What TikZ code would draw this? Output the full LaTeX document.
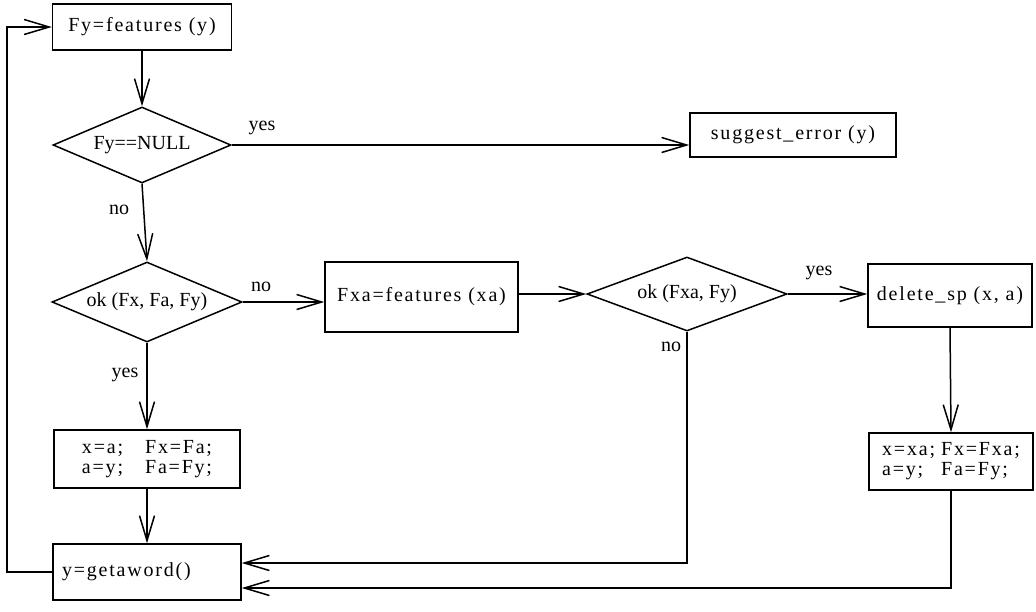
\documentclass[tikz,border=0pt]{standalone}
\usepackage{fontspec}
\setmainfont{Liberation Serif}
\newfontfamily\boxfont{Liberation Serif}[LetterSpace=9]
\usetikzlibrary{shapes.geometric,arrows.meta}
\begin{document}
\begin{tikzpicture}[x=1pt,y=-1pt,
  every node/.style={font=\fontsize{20}{20}\selectfont},
  box/.style={draw, line width=1.5pt, inner sep=0pt, font=\boxfont\fontsize{20}{20}\selectfont},
  dia/.style={draw, diamond, line width=1.5pt, inner sep=0pt, aspect=2.4},
  lbl/.style={font=\fontsize{20}{20}\selectfont, inner sep=1pt},
  arr/.style={line width=1.5pt, -{Straight Barb[length=25pt,width=15pt]}}]
\useasboundingbox (0,0) rectangle (1036,611);

\node[box, minimum width=179pt, minimum height=46pt] (b1) at (142,27) {Fy=features (y)};
\node[dia, minimum width=178pt, minimum height=76pt] (d1) at (142,145) {Fy==NULL};
\node[box, minimum width=206pt, minimum height=44pt] (sug) at (793,135) {suggest\_error (y)};
\node[dia, minimum width=190pt, minimum height=80pt] (d2) at (147,302) {ok (Fx, Fa, Fy)};
\node[box, minimum width=193pt, minimum height=70pt] (fxa) at (421.5,297) {Fxa=features (xa)};
\node[dia, minimum width=200pt, minimum height=74pt] (d3) at (687,294) {ok (Fxa, Fy)};
\node[box, minimum width=164pt, minimum height=63pt] (del) at (950,295.5) {delete\_sp (x, a)};
\node[box, minimum width=186pt, minimum height=58pt] (b3) at (147,459)
  {\begin{tabular}{@{}l@{\hspace{22pt}}l@{}}x=a; & Fx=Fa;\\ a=y; & Fa=Fy;\end{tabular}};
\node[box, minimum width=188pt, minimum height=56pt, text width=170pt, align=left] (b4) at (147,572) {y=getaword()};
\node[box, minimum width=164pt, minimum height=57pt] (b5) at (951,461.5)
  {\begin{tabular}{@{}l@{\hspace{6pt}}l@{}}x=xa; & Fx=Fxa;\\ a=y; & Fa=Fy;\end{tabular}};

\coordinate (n1) at (687,563);
\coordinate (n2) at (951,588);
\coordinate (lx) at (7,0);

\draw[arr] (b1.south) -- (d1.north);
\draw[arr] (d1.east) -- (d1.east -| sug.west);
\node[lbl] (ly1) at (262,128) {yes};
\draw[arr] (d1.south) -- (d2.north);
\node[lbl] (ln1) at (119,210) {no};
\draw[arr] (d2.east) -- (d2.east -| fxa.west);
\node[lbl] (ln2) at (261,287) {no};
\draw[arr] (d2.south) -- (b3.north);
\node[lbl] (ly2) at (125,375) {yes};
\draw[arr] (b3.south) -- (b4.north);
\draw[arr] (fxa.east |- d3.west) -- (d3.west);
\draw[arr] (d3.east) -- (d3.east -| del.west);
\node[lbl] (ly3) at (819,273) {yes};
\draw[arr] (d3.south) -- (n1) -- (n1 -| b4.east);
\node[lbl] (ln3) at (671,347) {no};
\draw[arr] (del.south) -- (b5.north);
\draw[arr] (b5.south) -- (n2) -- (n2 -| b4.east);
\draw[arr] (b4.west) -- (b4.west -| lx) -- (lx |- b1.west) -- (b1.west);
\end{tikzpicture}
\end{document}
